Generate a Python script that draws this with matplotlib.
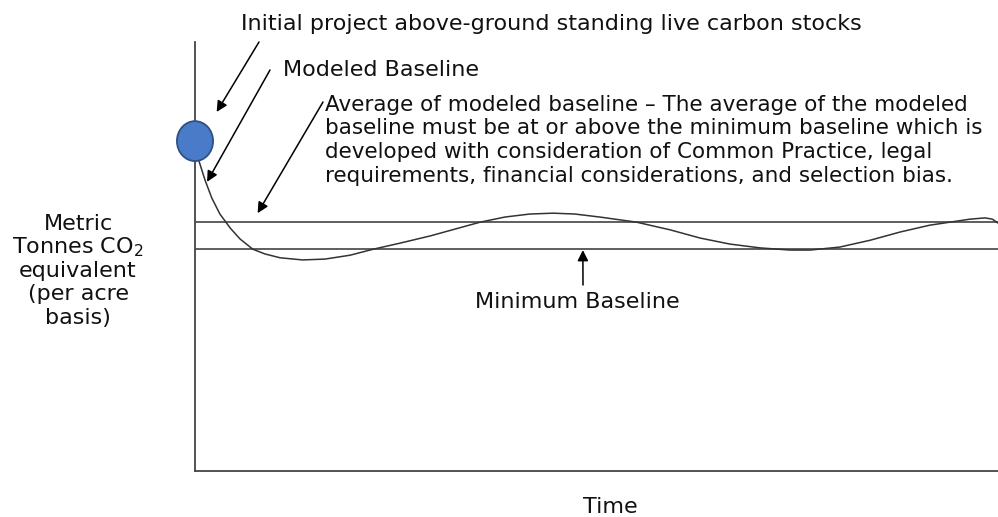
import matplotlib
matplotlib.use('Agg')
import matplotlib.pyplot as plt
from matplotlib.patches import Ellipse

plt.rc('font', family='DejaVu Sans')

W, H = 998, 517

# modeled baseline (time 0-100, stock 0-100)
time = [0.37, 1.25, 2.1, 3.1, 4.4, 5.6, 7.2, 8.7, 10.6, 13.4, 16.2, 19.3, 22.2,
        25.5, 29.3, 32.4, 35.5, 38.6, 41.7, 44.6, 47.3, 50.4, 55.0, 59.2, 62.9,
        66.6, 70.4, 74.1, 76.6, 80.3, 84.1, 87.8, 91.5, 94.0, 96.5, 98.4, 99.3, 100]
modeled = [73.0, 67.8, 63.6, 59.9, 56.6, 54.1, 51.7, 50.6, 49.7, 49.2, 49.4, 50.3,
           51.7, 53.1, 54.8, 56.4, 58.0, 59.2, 59.9, 60.1, 59.9, 59.2, 58.0, 56.2,
           54.3, 52.9, 52.0, 51.5, 51.5, 52.2, 53.8, 55.7, 57.3, 58.0, 58.7, 59.0,
           58.7, 57.8]
avg_baseline = 58.0
min_baseline = 51.7
initial_stock = 76.9

fig = plt.figure(figsize=(W / 100, H / 100), dpi=100)
ax = fig.add_axes([195 / W, 46 / H, (W - 195) / W, 429 / H])
ax.set_xlim(0, 100)
ax.set_ylim(0, 100)
for s in ['top', 'right']:
    ax.spines[s].set_visible(False)
for s in ['left', 'bottom']:
    ax.spines[s].set_color('#444444')
    ax.spines[s].set_linewidth(1.3)
ax.set_xticks([])
ax.set_yticks([])

ax.axhline(avg_baseline, color='#333333', lw=1.1)
ax.axhline(min_baseline, color='#333333', lw=1.1)
ax.plot(time, modeled, color='#333333', lw=1.1)

ax.add_patch(Ellipse((0, initial_stock), 4.5, 9.3, facecolor='#4a7bc8',
                     edgecolor='#2f4f85', lw=1.3, clip_on=False, zorder=5))

def px(x, y):
    return x / W, 1 - y / H

fs = 16
tc = '#111111'
fig.text(*px(241, 24), 'Initial project above-ground standing live carbon stocks',
         fontsize=fs, va='center', ha='left', color=tc)
fig.text(*px(283, 70), 'Modeled Baseline', fontsize=fs, va='center', ha='left', color=tc)
para = ['Average of modeled baseline \u2013 The average of the modeled',
        'baseline must be at or above the minimum baseline which is',
        'developed with consideration of Common Practice, legal',
        'requirements, financial considerations, and selection bias.']
for i, line in enumerate(para):
    fig.text(*px(325, 105 + i * 23.5), line, fontsize=15.5, va='center', ha='left', color=tc)
fig.text(*px(577, 302), 'Minimum Baseline', fontsize=fs, va='center', ha='center', color=tc)
ylab = ['Metric', 'Tonnes CO$_2$', 'equivalent', '(per acre', 'basis)']
for i, line in enumerate(ylab):
    fig.text(*px(78, 224 + i * 23.5), line, fontsize=fs, va='center', ha='center', color=tc)
fig.text(*px(610, 507), 'Time', fontsize=fs, va='center', ha='center', color=tc)

arrows = [((2.7, 83.7), (259, H - 42)),
          ((1.5, 67.4), (270, H - 70)),
          ((7.8, 60.1), (323, H - 102)),
          ((48.3, 51.5), (583, H - 285))]
for tip, tail in arrows:
    ax.annotate('', xy=tip, xycoords='data', xytext=tail, textcoords='figure pixels',
                annotation_clip=False,
                arrowprops=dict(arrowstyle='-|>', color='black', lw=1.1,
                                mutation_scale=16, shrinkA=0, shrinkB=0))

fig.savefig('out.png', dpi=100)
